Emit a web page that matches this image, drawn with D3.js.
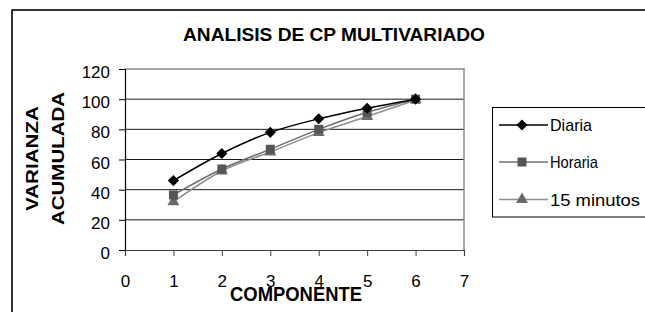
<!DOCTYPE html>
<html>
<head>
<meta charset="utf-8">
<script src="https://cdn.jsdelivr.net/npm/d3@7"></script>
<style>
	body { margin: 0; background: #fff; }
	svg { display: block; font-family: "Liberation Sans", Arial, sans-serif; }
</style>
</head>
<body>
<svg id="chart" width="645" height="312"></svg>
<script>
// values
var componentes = [1, 2, 3, 4, 5, 6];
var diaria = [46, 64, 78, 87, 94, 100];
var horaria = [36.5, 53.7, 66.8, 80, 91.3, 100];
var quinceMinutos = [32, 52.4, 65, 77.8, 88.5, 99.5];
var xTicks = [0, 1, 2, 3, 4, 5, 6, 7];
var yTicks = [0, 20, 40, 60, 80, 100, 120];
var seriesNames = ["Diaria", "Horaria", "15 minutos"];

var svg = d3.select("#chart");

var x = d3.scaleLinear().domain([0, 7]).range([125, 464]);
var y = d3.scaleLinear().domain([0, 120]).range([250, 69]);

// outer chart frame (only top and left are inside the picture)
svg.append("rect")
	.attr("x", 12).attr("y", 10)
	.attr("width", 700).attr("height", 400)
	.style("fill", "none")
	.style("stroke", "#000")
	.style("stroke-width", 1.6);

// title
svg.append("text")
	.attr("x", 334).attr("y", 40.5)
	.attr("text-anchor", "middle")
	.attr("textLength", 302)
	.attr("lengthAdjust", "spacingAndGlyphs")
	.style("font-size", "18px")
	.style("font-weight", "bold")
	.text("ANALISIS DE CP MULTIVARIADO");

// gridlines
svg.append("g").selectAll("line")
	.data(yTicks.filter(function(d) { return d > 0 && d < 120; }))
	.join("line")
		.attr("x1", x(0)).attr("x2", x(7))
		.attr("y1", function(d) { return y(d); })
		.attr("y2", function(d) { return y(d); })
		.style("stroke", "#1a1a1a")
		.style("stroke-width", 1);

// plot area top and right border
svg.append("path")
	.attr("d", "M" + x(0) + "," + y(120) + "H" + x(7) + "V" + y(0))
	.style("fill", "none")
	.style("stroke", "#8a8a8a")
	.style("stroke-width", 1.5);

// axes
var yAxis = d3.axisLeft(y).tickValues(yTicks).tickFormat(d3.format("d")).tickSize(6).tickPadding(9);
var gy = svg.append("g").attr("transform", "translate(" + x(0) + ",0)").call(yAxis);
gy.select(".domain").style("stroke", "#000").style("stroke-width", 1.2);
gy.selectAll(".tick line").style("stroke", "#000");
gy.selectAll(".tick text")
	.style("font-size", "17px")
	.style("font-family", "\"Liberation Sans\", Arial, sans-serif")
	.attr("dy", "0.5em");

var xAxis = d3.axisBottom(x).tickValues(xTicks).tickFormat(d3.format("d")).tickSize(6).tickPadding(19);
var gx = svg.append("g").attr("transform", "translate(0," + y(0) + ")").call(xAxis);
gx.select(".domain").style("stroke", "#404040").style("stroke-width", 1.2);
gx.selectAll(".tick line").style("stroke", "#404040");
gx.selectAll(".tick text")
	.style("font-size", "17px")
	.style("font-family", "\"Liberation Sans\", Arial, sans-serif");

// axis titles
svg.append("text")
	.attr("x", 296).attr("y", 301)
	.attr("text-anchor", "middle")
	.attr("textLength", 132)
	.attr("lengthAdjust", "spacingAndGlyphs")
	.style("font-size", "20px")
	.style("font-weight", "bold")
	.text("COMPONENTE");

var yTitle = [
	{ text: "VARIANZA", x: 37.5, len: 105 },
	{ text: "ACUMULADA", x: 63.5, len: 133 }
];
yTitle.forEach(function(t) {
	svg.append("text")
		.attr("transform", "translate(" + t.x + ",158.5) rotate(-90)")
		.attr("text-anchor", "middle")
		.attr("textLength", t.len)
		.attr("lengthAdjust", "spacingAndGlyphs")
		.style("font-size", "17px")
		.style("font-weight", "bold")
		.text(t.text);
});

// series
var series = [
	{ name: seriesNames[0], values: diaria, line: "#000", fill: "#000", symbol: d3.symbolSquare, size: 62, rotate: 45 },
	{ name: seriesNames[1], values: horaria, line: "#6e6e6e", fill: "#555", symbol: d3.symbolSquare, size: 81, rotate: 0 },
	{ name: seriesNames[2], values: quinceMinutos, line: "#8e8e8e", fill: "#6a6a6a", symbol: d3.symbolTriangle, size: 62, rotate: 0 }
];

var line = d3.line()
	.x(function(d) { return x(d.x); })
	.y(function(d) { return y(d.y); })
	.curve(d3.curveCardinal.tension(0));

series.slice().reverse().forEach(function(s) {
	var pts = componentes.map(function(c, i) { return { x: c, y: s.values[i] }; });
	svg.append("path")
		.attr("d", line(pts))
		.style("fill", "none")
		.style("stroke", s.line)
		.style("stroke-width", 1.5);
});

series.slice().reverse().forEach(function(s) {
	var pts = componentes.map(function(c, i) { return { x: c, y: s.values[i] }; });
	svg.append("g").selectAll("path")
		.data(pts)
		.join("path")
			.attr("transform", function(d) { return "translate(" + x(d.x) + "," + y(d.y) + ") rotate(" + s.rotate + ")"; })
			.attr("d", d3.symbol().type(s.symbol).size(s.size))
			.style("fill", s.fill);
});

// legend
var legend = svg.append("g");
legend.append("rect")
	.attr("x", 492.5).attr("y", 107.5)
	.attr("width", 200).attr("height", 109.5)
	.style("fill", "#fff")
	.style("stroke", "#000")
	.style("stroke-width", 1);

var legendY = [125, 162, 199.5];
var legendLen = [42, 48, 90];
series.forEach(function(s, i) {
	var g = legend.append("g").attr("transform", "translate(0," + legendY[i] + ")");
	g.append("line")
		.attr("x1", 499).attr("x2", 548)
		.style("stroke", s.line)
		.style("stroke-width", 1.5);
	g.append("path")
		.attr("transform", "translate(522,0) rotate(" + s.rotate + ")")
		.attr("d", d3.symbol().type(s.symbol).size(s.size))
		.style("fill", s.fill);
	g.append("text")
		.attr("x", 550).attr("y", 6)
		.attr("textLength", legendLen[i])
		.attr("lengthAdjust", "spacingAndGlyphs")
		.style("font-size", "17px")
		.text(s.name);
});
</script>
</body>
</html>
